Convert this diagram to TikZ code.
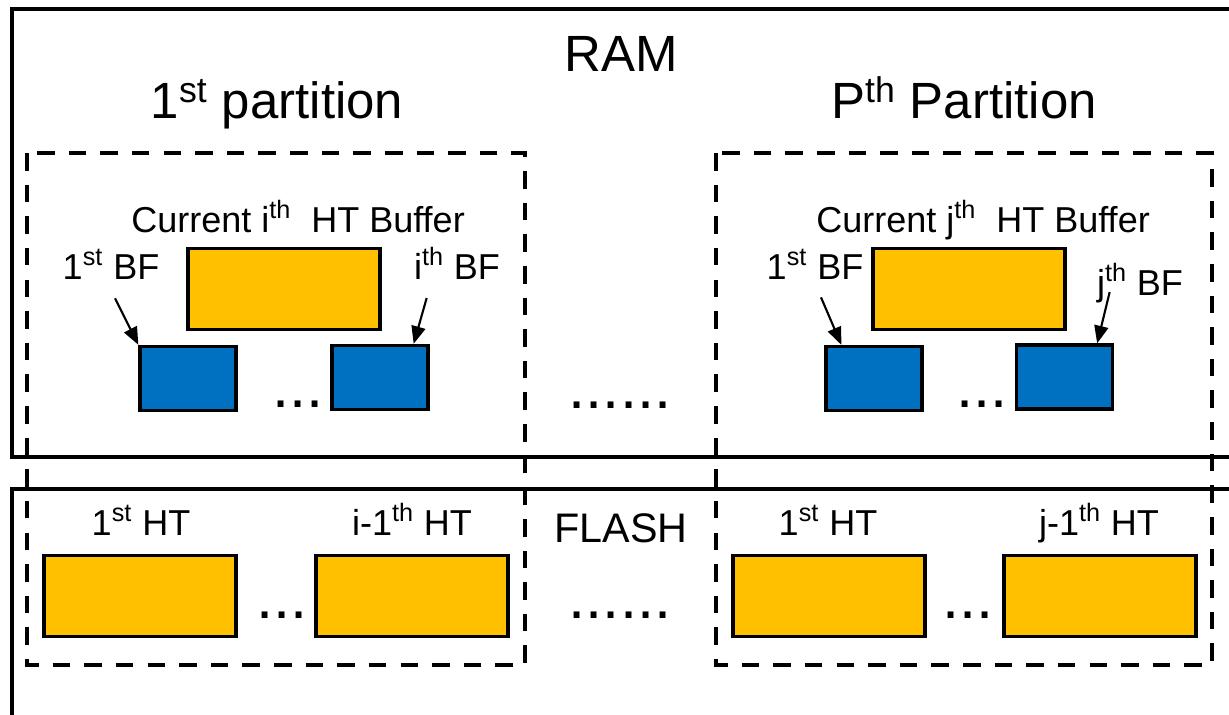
\documentclass[tikz,border=0pt]{standalone}
\usepackage{fontspec}
\setmainfont{Liberation Sans}
\usetikzlibrary{arrows.meta}
\definecolor{htyellow}{HTML}{FFC000}
\definecolor{bfblue}{HTML}{0070C0}
\begin{document}
\begin{tikzpicture}[x=0.02cm, y=-0.02cm,
  mem/.style={draw, line width=2.4pt},
  part/.style={draw, dash pattern=on 10pt off 8pt, line width=2.2pt},
  htbox/.style={draw, line width=1.9pt, fill=htyellow, minimum width=3.84cm, minimum height=1.62cm},
  bfbox/.style={draw, line width=1.9pt, fill=bfblue, minimum width=1.92cm, minimum height=1.28cm},
  lbl/.style={inner sep=0pt, anchor=base, font=\fontsize{20.5}{24}\selectfont},
  title/.style={inner sep=0pt, anchor=base, font=\fontsize{29}{34}\selectfont},
  dots/.style={inner sep=0pt, anchor=base, font=\fontsize{35}{40}\selectfont},
  ptr/.style={-{Triangle[length=10pt,width=8pt]}, line width=1.2pt}]
\useasboundingbox (0,0) rectangle (1229,714);
% memories
\draw[mem] (12,9) rectangle (1245,457);
\draw[mem] (12,489) rectangle (1245,730);
\node[title] (ram) at (621,71) {RAM};
\node[lbl, font=\fontsize{23.5}{28}\selectfont] (flash) at (621,542) {FLASH};
\node[title] (p1) at (277,118) {1\textsuperscript{st} partition};
\node[title] (pP) at (964,118) {P\textsuperscript{th} Partition};
% first partition
\node[lbl] (bufi) at (298,232) {Current i\textsuperscript{th}\ \ HT Buffer};
\node[htbox] (hti) at (284,289) {};
\node[lbl] (bfa) at (111,279) {1\textsuperscript{st} BF};
\node[lbl] (bfi) at (457,279) {i\textsuperscript{th} BF};
\node[bfbox] (bf1) at (188,378.5) {};
\node[bfbox] (bf2) at (380,377.5) {};
\node[dots] (dl1) at (298,407) {...};
\draw[ptr] ([xshift=0.08cm,yshift=-0.38cm]bfa.south) -- (bf1.north west);
\draw[ptr] ([xshift=0.26cm,yshift=-0.38cm]bfi.base west) -- ([xshift=-0.32cm]bf2.north east);
\node[lbl] (hta) at (141,535) {1\textsuperscript{st} HT};
\node[lbl] (htb) at (412,535) {i-1\textsuperscript{th} HT};
\node[htbox] (ht1) at (140,596) {};
\node[htbox] (ht2) at (412,596) {};
\node[dots] (dl2) at (282,618) {...};
% P-th partition
\node[lbl] (bufj) at (983,232) {Current j\textsuperscript{th}\ \ HT Buffer};
\node[htbox] (htj) at (969,289) {};
\node[lbl] (bfc) at (815,279) {1\textsuperscript{st} BF};
\node[lbl] (bfj) at (1140,295) {j\textsuperscript{th} BF};
\node[bfbox] (bf3) at (874,378.5) {};
\node[bfbox] (bf4) at (1064.5,377) {};
\node[dots] (dr1) at (982,407) {...};
\draw[ptr] ([xshift=0.12cm,yshift=-0.36cm]bfc.south) -- ([xshift=0.34cm]bf3.north west);
\draw[ptr] ([xshift=0.26cm,yshift=0.06cm]bfj.base west) -- ([xshift=-0.34cm]bf4.north east);
\node[lbl] (htc) at (828,535) {1\textsuperscript{st} HT};
\node[lbl] (htd) at (1099,535) {j-1\textsuperscript{th} HT};
\node[htbox] (ht3) at (829,596) {};
\node[htbox] (ht4) at (1100,596) {};
\node[dots] (dr2) at (968,618) {...};
% between partitions
\node[dots] (dm1) at (620,408) {......};
\node[dots] (dm2) at (620,618) {......};
% partitions
\draw[part] (27,153) rectangle (525,665);
\draw[part] (716,153) rectangle (1212,665);
\end{tikzpicture}
\end{document}
